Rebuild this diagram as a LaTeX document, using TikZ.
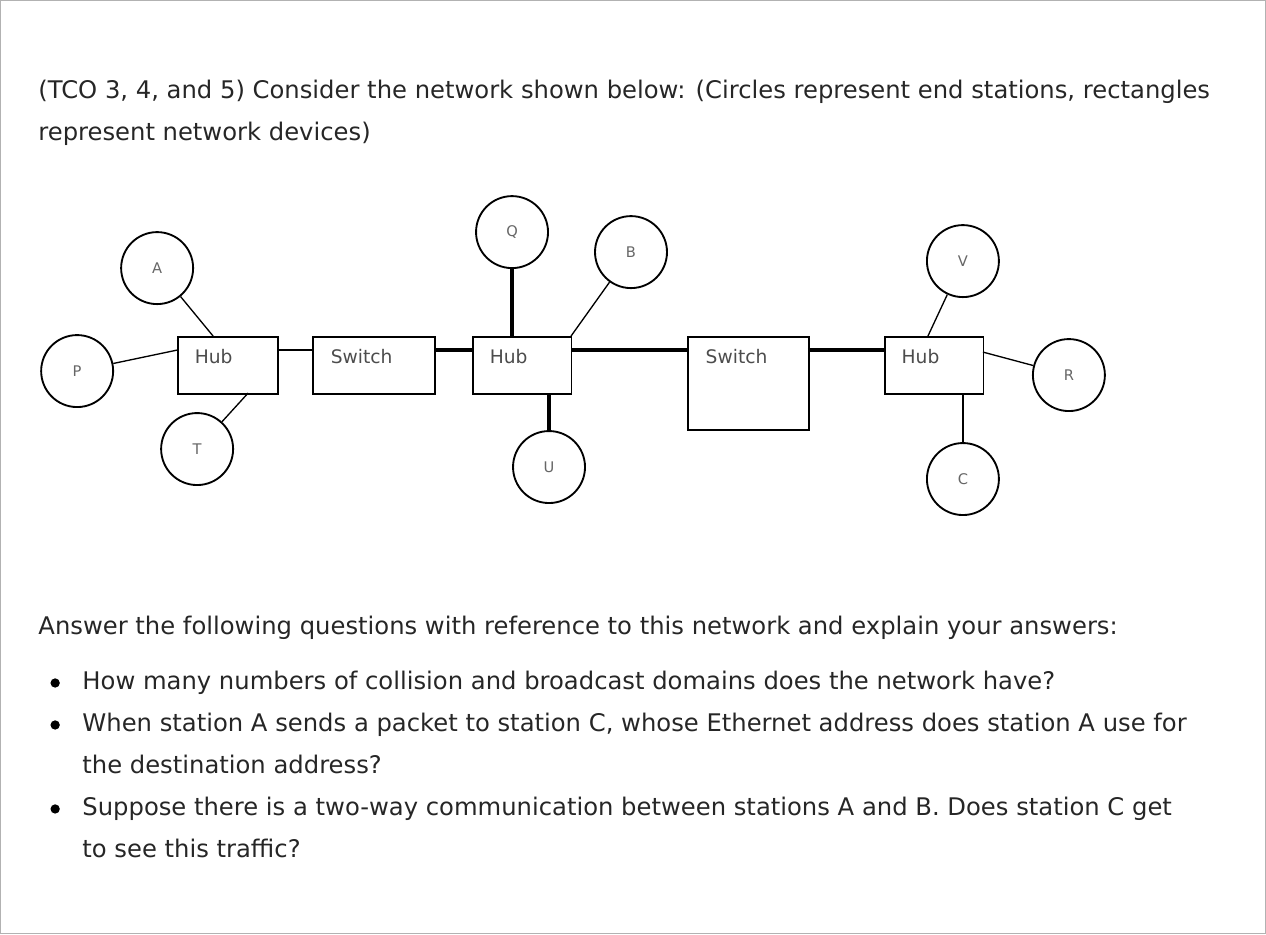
\documentclass[tikz,border=0pt]{standalone}
\usepackage{fontspec}
\setmainfont{DejaVu Sans}
\begin{document}
\begin{tikzpicture}[x=0.75pt,y=-0.75pt,
  st/.style={circle,draw,line width=1.4pt,minimum size=54pt,inner sep=0pt,font=\fontsize{11}{13}\selectfont,text=black!60},
  dev/.style={draw,line width=1.2pt,inner sep=0pt,anchor=north west},
  lbl/.style={anchor=west,font=\fontsize{14}{16}\selectfont,text=black!70},
  ln/.style={line width=1pt},
  thk/.style={line width=2.4pt},
  txt/.style={anchor=base west,inner sep=0pt,font=\fontsize{18.2}{22}\selectfont,text=black!85}]
\draw[black!30,line width=1pt] (0.5,0.5) rectangle (1265.5,933.5);
\useasboundingbox (0,0) rectangle (1266,934);
\node[txt] (t1) at (38,98) {(TCO 3, 4, and 5) Consider the network shown below: (Circles represent end stations, rectangles};
\node[txt] (t2) at (38,140) {represent network devices)};
% devices
\node[dev,minimum width=75pt,minimum height=43pt] (h1) at (177,336) {};
\node[dev,minimum width=91.5pt,minimum height=43pt] (s1) at (312,336) {};
\node[dev,minimum width=74pt,minimum height=43pt] (h2) at (472,336) {};
\node[dev,minimum width=91pt,minimum height=70pt] (s2) at (687,336) {};
\node[dev,minimum width=74pt,minimum height=43pt] (h3) at (884,336) {};
\node[lbl] at (190,356) {Hub};
\node[lbl] at (326,356) {Switch};
\node[lbl] at (485,356) {Hub};
\node[lbl] at (701,356) {Switch};
\node[lbl] at (897,356) {Hub};
% stations
\node[st] (A) at (157,268) {A};
\node[st] (P) at (77,371) {P};
\node[st] (T) at (197,449) {T};
\node[st] (Q) at (512,232) {Q};
\node[st] (U) at (549,467) {U};
\node[st] (B) at (631,252) {B};
\node[st] (V) at (963,261) {V};
\node[st] (R) at (1069,375) {R};
\node[st] (C) at (963,479) {C};
% links
\coordinate (h1a) at (213,336); \coordinate (h1t) at (248,393);
\draw[ln] (P) -- (177,350);
\draw[ln] (A) -- (h1a);
\draw[ln] (T) -- (h1t);
\draw[ln] (277,350) -- (312,350);
\draw[thk] (434,350) -- (472,350);
\draw[thk] (Q) -- (512,336);
\draw[thk] (U) -- (549,393);
\draw[ln] (B) -- (571,336);
\draw[thk] (571,350) -- (687,350);
\draw[thk] (808,350) -- (884,350);
\draw[ln] (V) -- (928,336);
\draw[ln] (983,352) -- (R);
\draw[ln] (963,393) -- (C);
% questions
\node[txt] (t3) at (38,634) {Answer the following questions with reference to this network and explain your answers:};
\foreach \y in {689,731,815} \fill (55,\y-6) circle (3.5pt);
\node[txt] at (82,690) {How many numbers of collision and broadcast domains does the network have?};
\node[txt] at (82,732) {When station A sends a packet to station C, whose Ethernet address does station A use for};
\node[txt] at (82,774) {the destination address?};
\node[txt] at (82,816) {Suppose there is a two-way communication between stations A and B. Does station C get};
\node[txt] at (82,858) {to see this traffic?};
\end{tikzpicture}
\end{document}
